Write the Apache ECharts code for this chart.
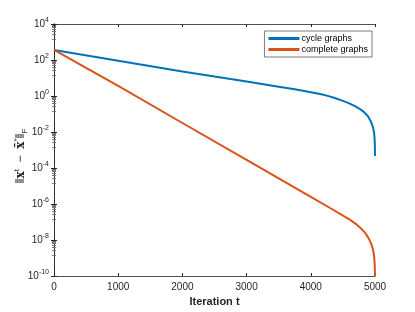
<!DOCTYPE html>
<html><head><meta charset="utf-8">
<script src="https://cdn.jsdelivr.net/npm/echarts@6/dist/echarts.min.js"></script>
<style>html,body{margin:0;padding:0;background:#fff}#c{width:415px;height:312px}</style>
</head><body><div id="c"></div>
<script>
const seriesNames = ['cycle graphs', 'complete graphs'];
const cycleT = [0,1000,2000,2500,3000,3500,3750,4000,4125,4250,4375,4500,4580,4650,4710,4760,4810,4850,4885,4914,4935,4950,4965,4975,4985,4990,4995,4998,5000];
const cycleV = [363,91,23,12,6.3,3.3,2.34,1.62,1.32,1.05,0.776,0.537,0.417,0.324,0.251,0.195,0.145,0.107,0.0794,0.0537,0.038,0.0282,0.02,0.0141,0.0089,0.0063,0.00355,0.00158,0.00047];
const completeT = [0,1000,2000,3000,4000,4300,4600,4700,4800,4850,4900,4940,4966,4980,4990,4996,5000];
const completeV = [363,3.6,0.0316,2.8e-4,2.5e-6,6.0e-7,1.41e-7,7.9e-8,3.8e-8,2.4e-8,1.26e-8,6.3e-9,3.2e-9,1.78e-9,8.9e-10,3.5e-10,1.0e-10];
const xTicks = [0,1000,2000,3000,4000,5000];
const xLabel = 'Iteration t';

const font = 'Liberation Sans, Arial, sans-serif';
const axisCol = '#262626';
const supRich = {
  base: {fontSize: 10, color: axisCol, fontFamily: font},
  sup: {fontSize: 7, color: axisCol, fontFamily: font, padding: [0,0,7,0]}
};
const chart = echarts.init(document.getElementById('c'));
const grid = {left: 54, right: 40, top: 24, bottom: 36, containLabel: false, outerBoundsMode: 'none'};
chart.setOption({
  animation: false,
  backgroundColor: '#fff',
  grid: grid,
  legend: {
    data: seriesNames, orient: 'vertical', right: 43, top: 31,
    itemWidth: 31, itemHeight: 3, itemGap: 2, icon: 'rect',
    borderColor: '#262626', borderWidth: 0.6, padding: [3,4,3,4],
    backgroundColor: '#fff',
    textStyle: {fontSize: 9, color: '#000', fontFamily: font, padding: [0,0,0,-3]}
  },
  xAxis: [{
    type: 'value', min: 0, max: 5000, interval: 1000,
    name: xLabel, nameLocation: 'middle', nameGap: 20, nameMoveOverlap: false,
    nameTextStyle: {fontSize: 11, fontWeight: 'bold', color: axisCol, fontFamily: font},
    axisLine: {lineStyle: {color: axisCol, width: 0.8}},
    axisTick: {inside: true, length: 3, lineStyle: {color: axisCol}},
    axisLabel: {fontSize: 10, color: axisCol, fontFamily: font, margin: 6,
      formatter: v => xTicks.includes(v) ? String(v) : ''},
    splitLine: {show: false}
  }, {
    type: 'value', min: 0, max: 5000, interval: 1000, position: 'top',
    axisLine: {onZero: false, lineStyle: {color: axisCol, width: 0.8}},
    axisTick: {inside: true, length: 3, lineStyle: {color: axisCol}},
    axisLabel: {show: false}, splitLine: {show: false}
  }],
  yAxis: [{
    type: 'log', logBase: 10, min: 1e-10, max: 1e4, interval: 2,
    name: '{n|‖}{b|x}{s|t}{n|  −  }{b|x̄}{s|*}{n|‖}{f|F}',
    nameLocation: 'middle', nameGap: 25, nameRotate: 90, nameMoveOverlap: false,
    nameTextStyle: {
      padding: [0, 12, 0, 0],
      rich: {
        n: {fontSize: 12, color: axisCol, fontFamily: font},
        b: {fontSize: 12, fontWeight: 'bold', color: axisCol, fontFamily: 'DejaVu Serif, serif'},
        s: {fontSize: 8, color: axisCol, fontFamily: font, padding: [0,0,8,0]},
        f: {fontSize: 8, color: axisCol, fontFamily: font, padding: [7,0,0,0]}
      }
    },
    axisLine: {show: true, lineStyle: {color: axisCol, width: 0.8}},
    axisTick: {inside: true, length: 3, lineStyle: {color: axisCol}},
    minorTick: {show: true, splitNumber: 8, length: 2, lineStyle: {color: '#777'}},
    axisLabel: {
      margin: 5,
      formatter: v => '{base|10}{sup|' + Math.round(Math.log10(v)) + '}',
      rich: supRich
    },
    splitLine: {show: false}
  }, {
    type: 'log', logBase: 10, min: 1e-10, max: 1e4, interval: 2, position: 'right',
    axisLine: {show: true, lineStyle: {color: axisCol, width: 0.8}},
    axisTick: {inside: true, length: 3, lineStyle: {color: axisCol}},
    minorTick: {show: true, splitNumber: 8, length: 2, lineStyle: {color: '#777'}},
    axisLabel: {show: false}, splitLine: {show: false}
  }],
  series: [{
    name: seriesNames[0], type: 'line', showSymbol: false, smooth: false,
    color: '#0072BD', lineStyle: {width: 2, color: '#0072BD'},
    data: cycleT.map((t, i) => [t, cycleV[i]])
  }, {
    name: seriesNames[1], type: 'line', showSymbol: false, smooth: false,
    color: '#D95319', lineStyle: {width: 2, color: '#D95319'},
    data: completeT.map((t, i) => [t, completeV[i]])
  }]
});
</script></body></html>
